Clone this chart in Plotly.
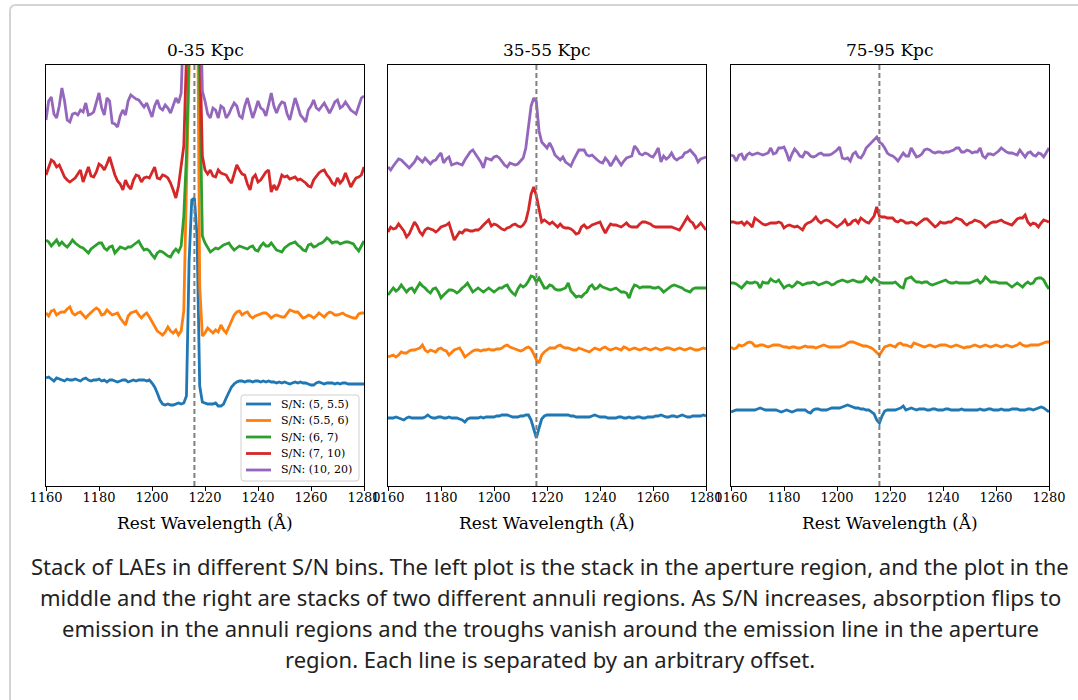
import plotly.graph_objects as go

# Rest-frame wavelength grid (Angstrom)
WAVELENGTH = list(range(1160, 1281))

# Stacked spectra, flux + offset (arbitrary units)
# 0-35 kpc aperture
ap_sn05_055 = [
    108, 109, 107, 105, 108, 107, 106, 105, 107, 106,
    106, 107, 106, 105, 107, 108, 106, 105, 106, 106,
    107, 105, 106, 104, 106, 106, 105, 104, 105, 106,
    106, 104, 105, 106, 105, 106, 106, 106, 105, 106,
    103, 99, 93, 86, 82, 81, 82, 81, 81, 82,
    83, 82, 83, 90, 225, 286, 288, 250, 100, 84,
    83, 82, 82, 82, 83, 80, 80, 82, 88, 94,
    99, 102, 104, 105, 105, 104, 105, 105, 104, 105,
    105, 104, 105, 104, 105, 104, 104, 103, 104, 103,
    104, 103, 102, 103, 104, 103, 104, 103, 103, 102,
    101, 101, 103, 104, 103, 102, 103, 103, 103, 102,
    103, 102, 103, 103, 102, 102, 102, 102, 102, 102,
    102]
ap_sn055_06 = [
    173, 170, 175, 176, 171, 173, 174, 174, 177, 179,
    173, 171, 173, 174, 171, 168, 171, 174, 176, 178,
    176, 171, 172, 176, 173, 171, 172, 173, 168, 164,
    161, 170, 173, 174, 175, 171, 168, 171, 173, 169,
    164, 160, 155, 153, 151, 154, 159, 155, 153, 156,
    151, 155, 175, 300, 480, 620, 650, 560, 200, 150,
    153, 158, 155, 153, 156, 154, 161, 156, 153, 160,
    165, 171, 174, 175, 171, 173, 174, 170, 168, 170,
    171, 172, 173, 173, 171, 168, 170, 171, 170, 169,
    169, 172, 176, 175, 174, 174, 171, 168, 169, 171,
    170, 168, 170, 173, 171, 169, 172, 174, 173, 171,
    171, 172, 173, 171, 170, 169, 168, 168, 172, 173,
    173]
ap_sn06_07 = [
    246, 244, 240, 243, 246, 241, 244, 241, 239, 242,
    246, 243, 241, 239, 238, 235, 233, 237, 239, 241,
    243, 243, 238, 236, 239, 240, 233, 236, 239, 238,
    237, 239, 239, 241, 243, 245, 240, 236, 237, 235,
    231, 228, 233, 235, 234, 232, 230, 229, 234, 237,
    234, 240, 270, 330, 470, 620, 660, 560, 380, 250,
    243, 238, 234, 236, 238, 237, 239, 241, 242, 243,
    239, 236, 238, 240, 239, 238, 237, 239, 240, 236,
    235, 240, 243, 240, 240, 243, 239, 236, 235, 234,
    238, 240, 242, 243, 244, 241, 239, 236, 235, 241,
    242, 239, 240, 242, 243, 245, 248, 246, 243, 244,
    244, 242, 243, 244, 244, 243, 242, 238, 235, 240,
    245]
ap_sn07_10 = [
    311, 318, 326, 324, 319, 321, 314, 309, 306, 304,
    306, 308, 312, 316, 304, 312, 319, 310, 309, 314,
    322, 320, 316, 322, 329, 320, 311, 305, 302, 296,
    306, 300, 297, 306, 311, 310, 304, 308, 309, 308,
    313, 319, 308, 307, 311, 310, 308, 303, 296, 288,
    300, 320, 340, 430, 560, 680, 720, 640, 450, 330,
    316, 312, 316, 310, 309, 316, 313, 312, 311, 306,
    303, 312, 321, 316, 312, 311, 302, 296, 308, 311,
    304, 306, 310, 314, 316, 294, 301, 296, 302, 311,
    309, 310, 307, 308, 309, 306, 307, 305, 303, 300,
    299, 306, 310, 313, 315, 316, 311, 308, 303, 301,
    308, 303, 306, 313, 306, 299, 304, 308, 309, 311,
    319]
ap_sn10_20 = [
    366, 385, 389, 372, 368, 380, 398, 385, 366, 364,
    372, 373, 371, 376, 374, 383, 371, 372, 374, 385,
    393, 378, 371, 388, 385, 363, 362, 359, 370, 376,
    371, 385, 391, 389, 387, 386, 382, 379, 383, 375,
    369, 380, 386, 378, 376, 381, 378, 373, 380, 388,
    383, 393, 470, 540, 620, 700, 740, 700, 520, 395,
    385, 372, 368, 378, 376, 368, 380, 378, 368, 372,
    378, 383, 380, 370, 368, 380, 388, 378, 368, 376,
    385, 378, 376, 370, 382, 393, 380, 373, 380, 384,
    383, 372, 366, 376, 388, 380, 371, 368, 364, 376,
    380, 386, 378, 376, 380, 383, 378, 373, 378, 384,
    386, 378, 380, 384, 380, 376, 374, 372, 380, 388,
    390]

# 35-55 kpc annulus
in_sn05_055 = [
    68, 68, 68, 69, 68, 67, 66, 68, 69, 68,
    68, 68, 68, 68, 69, 71, 69, 68, 68, 69,
    69, 68, 68, 69, 68, 68, 68, 67, 66, 64,
    67, 68, 68, 68, 68, 69, 68, 69, 69, 69,
    69, 70, 70, 71, 71, 71, 70, 69, 69, 69,
    70, 70, 71, 71, 66, 56, 48, 58, 67, 70,
    71, 71, 71, 71, 71, 71, 71, 71, 71, 70,
    70, 69, 69, 69, 69, 69, 69, 70, 71, 70,
    69, 69, 69, 68, 68, 68, 68, 69, 69, 68,
    68, 69, 68, 68, 69, 69, 68, 68, 69, 69,
    69, 70, 70, 71, 70, 69, 69, 70, 70, 69,
    70, 71, 70, 69, 69, 70, 70, 70, 70, 71,
    70]
in_sn055_06 = [
    129, 130, 131, 129, 131, 134, 133, 133, 135, 136,
    136, 137, 138, 141, 136, 134, 136, 135, 134, 137,
    138, 136, 135, 131, 134, 136, 137, 138, 134, 129,
    131, 133, 135, 136, 136, 135, 136, 136, 137, 136,
    136, 137, 137, 138, 140, 141, 139, 138, 137, 136,
    135, 136, 138, 139, 137, 132, 126, 123, 131, 134,
    136, 138, 138, 138, 140, 141, 139, 138, 138, 137,
    136, 136, 138, 137, 136, 135, 134, 136, 138, 137,
    136, 138, 139, 137, 136, 137, 138, 137, 136, 139,
    138, 136, 137, 138, 137, 136, 137, 138, 137, 136,
    137, 138, 137, 136, 137, 138, 138, 137, 136, 137,
    138, 137, 136, 137, 138, 137, 136, 136, 137, 138,
    137]
in_sn06_07 = [
    191, 195, 198, 195, 197, 201, 198, 194, 197, 198,
    194, 199, 203, 200, 198, 195, 193, 197, 198, 194,
    188, 191, 194, 196, 196, 195, 193, 195, 198, 200,
    203, 199, 194, 196, 198, 196, 194, 196, 198, 196,
    194, 196, 198, 198, 200, 201, 196, 193, 191, 197,
    201, 199, 201, 205, 210, 209, 204, 208, 203, 198,
    198, 201, 200, 197, 196, 196, 197, 198, 203, 195,
    192, 189, 190, 189, 192, 194, 199, 201, 197, 198,
    201, 199, 198, 197, 196, 197, 198, 196, 194, 194,
    193, 188, 196, 201, 200, 198, 199, 199, 199, 199,
    198, 198, 199, 197, 194, 196, 198, 200, 201, 200,
    199, 198, 196, 195, 194, 197, 198, 198, 198, 198,
    198]
in_sn07_10 = [
    254, 259, 257, 258, 262, 259, 255, 249, 252, 258,
    264, 260, 254, 251, 256, 258, 257, 256, 254, 256,
    259, 260, 261, 263, 255, 246, 250, 254, 253, 256,
    256, 255, 255, 256, 256, 258, 261, 264, 266, 260,
    262, 261, 259, 257, 256, 258, 259, 261, 262, 260,
    259, 261, 265, 276, 292, 299, 290, 278, 264, 266,
    264, 262, 264, 261, 259, 262, 259, 258, 258, 257,
    255, 252, 253, 259, 261, 258, 259, 261, 262, 263,
    264, 258, 253, 258, 262, 261, 261, 260, 259, 261,
    263, 260, 259, 259, 259, 262, 264, 264, 263, 262,
    260, 259, 259, 259, 259, 259, 259, 259, 258, 257,
    256, 260, 264, 269, 265, 263, 258, 260, 263, 259,
    256]
in_sn10_20 = [
    319, 316, 320, 323, 327, 326, 323, 320, 318, 321,
    324, 329, 326, 324, 328, 325, 322, 325, 326, 330,
    333, 323, 327, 329, 321, 322, 323, 322, 321, 326,
    330, 334, 336, 332, 329, 324, 318, 328, 327, 326,
    329, 330, 328, 324, 321, 319, 323, 322, 321, 322,
    325, 328, 338, 360, 380, 388, 384, 355, 344, 341,
    338, 343, 338, 331, 328, 326, 329, 324, 322, 320,
    326, 331, 336, 336, 336, 331, 330, 331, 328, 326,
    324, 323, 328, 325, 320, 324, 329, 325, 321, 325,
    328, 329, 330, 340, 337, 332, 331, 333, 332, 330,
    329, 333, 338, 324, 330, 327, 329, 333, 328, 326,
    328, 329, 333, 334, 336, 333, 330, 324, 327, 328,
    329]

# 75-95 kpc annulus
out_sn05_055 = [
    74, 75, 76, 76, 76, 76, 76, 76, 76, 76,
    77, 78, 77, 76, 76, 76, 76, 76, 75, 74,
    75, 76, 75, 74, 75, 76, 76, 76, 76, 74,
    73, 76, 77, 77, 76, 76, 76, 77, 78, 78,
    78, 78, 79, 80, 81, 80, 79, 78, 78, 77,
    77, 76, 76, 74, 72, 66, 63, 70, 75, 76,
    76, 76, 76, 77, 78, 80, 76, 77, 78, 77,
    76, 77, 77, 77, 76, 76, 77, 77, 76, 76,
    76, 77, 77, 76, 76, 76, 76, 77, 76, 76,
    76, 76, 76, 76, 77, 76, 76, 77, 77, 76,
    76, 76, 77, 76, 76, 76, 77, 77, 77, 76,
    76, 76, 77, 77, 76, 77, 78, 79, 78, 76,
    74]
out_sn055_06 = [
    139, 137, 138, 141, 140, 141, 143, 144, 143, 140,
    140, 141, 141, 140, 139, 140, 141, 141, 141, 140,
    139, 139, 138, 139, 139, 138, 138, 139, 140, 139,
    139, 139, 138, 139, 140, 141, 140, 139, 139, 139,
    139, 139, 140, 141, 143, 144, 144, 143, 142, 141,
    140, 140, 139, 138, 136, 133, 131, 135, 139, 140,
    141, 140, 139, 142, 143, 141, 141, 140, 139, 143,
    142, 141, 140, 139, 140, 141, 140, 139, 140, 141,
    141, 141, 140, 139, 140, 141, 140, 139, 138, 139,
    139, 140, 141, 140, 139, 140, 141, 140, 139, 140,
    141, 140, 139, 140, 141, 140, 139, 140, 141, 143,
    141, 140, 140, 141, 141, 141, 141, 142, 143, 144,
    144]
out_sn06_07 = [
    203, 203, 202, 200, 198, 201, 204, 203, 203, 204,
    203, 198, 204, 203, 203, 207, 205, 204, 206, 202,
    198, 200, 201, 199, 201, 204, 203, 201, 202, 203,
    203, 204, 203, 201, 202, 203, 204, 203, 201, 202,
    204, 205, 206, 205, 204, 205, 206, 205, 204, 204,
    205, 209, 206, 204, 208, 206, 204, 203, 203, 203,
    203, 203, 204, 201, 199, 198, 207, 208, 209, 206,
    204, 204, 203, 204, 204, 202, 201, 202, 203, 204,
    205, 206, 204, 203, 203, 204, 203, 203, 203, 203,
    203, 204, 205, 206, 203, 205, 209, 206, 204, 204,
    204, 203, 203, 203, 203, 201, 199, 201, 203, 201,
    199, 202, 204, 202, 203, 207, 208, 208, 206, 201,
    197]
out_sn07_10 = [
    264, 264, 263, 263, 264, 261, 264, 262, 259, 268,
    266, 264, 262, 261, 262, 263, 263, 263, 264, 263,
    258, 260, 261, 260, 259, 260, 258, 256, 261, 263,
    264, 266, 269, 265, 263, 265, 266, 265, 263, 261,
    259, 261, 263, 266, 261, 262, 265, 266, 263, 268,
    266, 264, 263, 266, 270, 279, 270, 269, 269, 268,
    268, 268, 265, 264, 266, 265, 263, 263, 264, 263,
    261, 263, 265, 267, 267, 264, 261, 259, 261, 264,
    263, 263, 264, 264, 266, 268, 267, 266, 263, 261,
    263, 264, 266, 265, 264, 262, 259, 261, 263, 264,
    264, 265, 266, 264, 263, 262, 261, 264, 267, 268,
    268, 271, 264, 261, 263, 262, 259, 263, 266, 265,
    264]
out_sn10_20 = [
    331, 330, 325, 331, 332, 326, 331, 333, 331, 332,
    333, 332, 331, 332, 333, 338, 332, 333, 338, 338,
    339, 333, 325, 332, 337, 334, 330, 329, 334, 333,
    330, 329, 330, 332, 333, 331, 331, 331, 332, 334,
    336, 339, 328, 327, 328, 325, 332, 334, 329, 328,
    332, 338, 341, 343, 346, 349, 344, 342, 338, 333,
    331, 330, 328, 325, 329, 333, 330, 330, 338, 333,
    329, 330, 332, 336, 337, 336, 334, 333, 334, 334,
    333, 334, 334, 335, 336, 338, 338, 334, 334, 336,
    335, 333, 334, 334, 338, 330, 328, 332, 332, 331,
    333, 335, 338, 336, 334, 333, 333, 332, 331, 336,
    332, 329, 333, 334, 331, 330, 333, 332, 329, 333,
    338]

SN_LABELS = ["S/N: (5, 5.5)", "S/N: (5.5, 6)", "S/N: (6, 7)", "S/N: (7, 10)", "S/N: (10, 20)"]
REGION_TITLES = ["0-35 Kpc", "35-55 Kpc", "75-95 Kpc"]
X_TICKS = [1160, 1180, 1200, 1220, 1240, 1260, 1280]
LYA_REST = 1216
Y_RANGE = [0, 421]

PANELS = [
    [ap_sn05_055, ap_sn055_06, ap_sn06_07, ap_sn07_10, ap_sn10_20],
    [in_sn05_055, in_sn055_06, in_sn06_07, in_sn07_10, in_sn10_20],
    [out_sn05_055, out_sn055_06, out_sn06_07, out_sn07_10, out_sn10_20],
]
for panel in PANELS:
    for spec in panel:
        assert len(spec) == len(WAVELENGTH)

COLORS = ["#1f77b4", "#ff7f0e", "#2ca02c", "#d62728", "#9467bd"]
SERIF = "DejaVu Serif"
W, H = 1078, 700


def fx(x):
    return x / W


def fy(y):
    return 1 - y / H


PANEL_LEFT = [46, 388, 731]
PANEL_W = 318
PANEL_TOP, PANEL_BOTTOM = 65, 486

fig = go.Figure()
layout = dict(
    template="none",
    width=W, height=H, autosize=False,
    margin=dict(l=0, r=0, t=0, b=0, pad=0, autoexpand=False),
    paper_bgcolor="white", plot_bgcolor="white",
    showlegend=False,
    shapes=[], annotations=[],
)

for p, panel in enumerate(PANELS):
    sfx = "" if p == 0 else str(p + 1)
    left = PANEL_LEFT[p]
    layout["xaxis" + sfx] = dict(
        domain=[fx(left), fx(left + PANEL_W)], range=[1160, 1280],
        anchor="y" + sfx, tickmode="array", tickvals=X_TICKS,
        ticks="outside", ticklen=4, tickwidth=1, tickcolor="black",
        ticklabelstandoff=-5,
        showline=True, mirror=True, linecolor="black", linewidth=1,
        showgrid=False, zeroline=False, automargin=False,
        tickfont=dict(family=SERIF, size=13, color="black"),
    )
    layout["yaxis" + sfx] = dict(
        domain=[fy(PANEL_BOTTOM), fy(PANEL_TOP)], range=Y_RANGE,
        anchor="x" + sfx, showticklabels=False, ticks="",
        showline=True, mirror=True, linecolor="black", linewidth=1,
        showgrid=False, zeroline=False, automargin=False,
    )
    for k, spec in enumerate(panel):
        fig.add_trace(go.Scatter(
            x=WAVELENGTH, y=spec, mode="lines", name=SN_LABELS[k],
            line=dict(color=COLORS[k], width=2.8),
            xaxis="x" + sfx, yaxis="y" + sfx,
        ))
    # Lyman-alpha rest wavelength
    layout["shapes"].append(dict(
        type="line", xref="x" + sfx, yref="y" + sfx + " domain",
        x0=LYA_REST, x1=LYA_REST, y0=0, y1=1,
        line=dict(color="#808080", width=2, dash="5px,3px"),
    ))
    cx = fx(left + PANEL_W / 2)
    layout["annotations"].append(dict(
        text=REGION_TITLES[p], xref="paper", yref="paper", x=cx, y=fy(50),
        xanchor="center", yanchor="middle", showarrow=False,
        font=dict(family=SERIF, size=17, color="black"),
    ))
    layout["annotations"].append(dict(
        text="Rest Wavelength (Å)", xref="paper", yref="paper", x=cx, y=fy(523),
        xanchor="center", yanchor="middle", showarrow=False,
        font=dict(family=SERIF, size=17, color="black"),
    ))

# Legend box in the first panel
lx0, lx1, ly0, ly1, r = 241, 359, 395, 481, 3
legend_path = (
    f"M {fx(lx0 + r)},{fy(ly0)} L {fx(lx1 - r)},{fy(ly0)} "
    f"Q {fx(lx1)},{fy(ly0)} {fx(lx1)},{fy(ly0 + r)} "
    f"L {fx(lx1)},{fy(ly1 - r)} Q {fx(lx1)},{fy(ly1)} {fx(lx1 - r)},{fy(ly1)} "
    f"L {fx(lx0 + r)},{fy(ly1)} Q {fx(lx0)},{fy(ly1)} {fx(lx0)},{fy(ly1 - r)} "
    f"L {fx(lx0)},{fy(ly0 + r)} Q {fx(lx0)},{fy(ly0)} {fx(lx0 + r)},{fy(ly0)} Z"
)
layout["shapes"].append(dict(
    type="path", xref="paper", yref="paper", path=legend_path,
    line=dict(color="#d0d0d0", width=1), fillcolor="rgba(255,255,255,0.8)",
))
for k, label in enumerate(SN_LABELS):
    ry = 404 + k * 16.5
    layout["shapes"].append(dict(
        type="line", xref="paper", yref="paper",
        x0=fx(246), x1=fx(271), y0=fy(ry), y1=fy(ry),
        line=dict(color=COLORS[k], width=2.8),
    ))
    layout["annotations"].append(dict(
        text=label, xref="paper", yref="paper", x=fx(279), y=fy(ry),
        xanchor="left", yanchor="middle", showarrow=False,
        font=dict(family=SERIF, size=11, color="black"),
    ))

# Card outline around figure and caption
card = (
    f"M {fx(10)},{fy(720)} L {fx(10)},{fy(11)} "
    f"Q {fx(10)},{fy(5)} {fx(16)},{fy(5)} L {fx(1100)},{fy(5)}"
)
layout["shapes"].append(dict(
    type="path", xref="paper", yref="paper", path=card,
    line=dict(color="#d4d4d4", width=2),
))

CAPTION = [
    "Stack of LAEs in different S/N bins. The left plot is the stack in the aperture region, and the plot in the",
    "middle and the right are stacks of two different annuli regions. As S/N increases, absorption flips to",
    "emission in the annuli regions and the troughs vanish around the emission line in the aperture",
    "region. Each line is separated by an arbitrary offset.",
]
for i, line in enumerate(CAPTION):
    layout["annotations"].append(dict(
        text=line, xref="paper", yref="paper", x=fx(550), y=fy(566 + 31 * i),
        xanchor="center", yanchor="middle", showarrow=False,
        font=dict(family="Noto Sans", size=22, color="#222222"),
    ))

fig.update_layout(**layout)
fig.write_html("out.html")
